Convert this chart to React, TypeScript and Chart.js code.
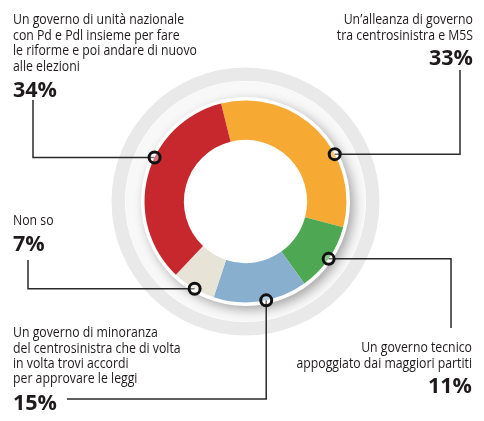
import React, { useEffect, useRef } from "react";
import { Chart, registerables } from "chart.js";

Chart.register(...registerables);

// ---- data ----
const categories = [
  "Un’alleanza di governo tra centrosinistra e M5S",
  "Un governo tecnico appoggiato dai maggiori partiti",
  "Un governo di minoranza del centrosinistra che di volta in volta trovi accordi per approvare le leggi",
  "Non so",
  "Un governo di unità nazionale con Pd e Pdl insieme per fare le riforme e poi andare di nuovo alle elezioni",
];
const values = [33, 11, 15, 7, 34];
const colors = ["#F6A933", "#4EA752", "#89AFCE", "#E7E3D6", "#C7282E"];
const labelLines = [
  ["Un’alleanza di governo", "tra centrosinistra e M5S"],
  ["Un governo tecnico", "appoggiato dai maggiori partiti"],
  ["Un governo di minoranza", "del centrosinistra che di volta", "in volta trovi accordi", "per approvare le leggi"],
  ["Non so"],
  ["Un governo di unità nazionale", "con Pd e Pdl insieme per fare", "le riforme e poi andare di nuovo", "alle elezioni"],
];

// ---- layout (positions only) ----
type Lay = {
  x: number; align: CanvasTextAlign; lineY: number[]; pctY: number;
  markerFrac: number; leader: { first: "h" | "v"; hx: number; vy: number };
};
const layout: Lay[] = [
  { x: 473, align: "right", lineY: [24, 39.5], pctY: 65, markerFrac: 0.64, leader: { first: "h", hx: 460, vy: 70 } },
  { x: 472, align: "right", lineY: [352, 367.5], pctY: 393, markerFrac: 0.5, leader: { first: "h", hx: 451, vy: 328 } },
  { x: 13, align: "left", lineY: [337, 352.5, 368, 383], pctY: 410, markerFrac: 0.44, leader: { first: "v", hx: 67, vy: 399 } },
  { x: 13, align: "left", lineY: [225], pctY: 251, markerFrac: 0.47, leader: { first: "h", hx: 28, vy: 260 } },
  { x: 13, align: "left", lineY: [24, 39.5, 55, 70.5], pctY: 97, markerFrac: 0.59, leader: { first: "h", hx: 33, vy: 100 } },
];

const TEXT = "#1f1b1c";

export default function App() {
  const ref = useRef<HTMLCanvasElement | null>(null);
  useEffect(() => {
    if (!ref.current) return;
    const bodyFont = `14px 'Open Sans', 'Noto Sans', sans-serif`;
    const pctFont = `bold 21.5px 'Open Sans', 'Liberation Sans', sans-serif`;

    const decor = {
      id: "decor",
      beforeDatasetsDraw(chart: any) {
        const meta = chart.getDatasetMeta(0);
        const arc = meta.data[0];
        if (!arc) return;
        const { x, y, outerRadius } = arc.getProps(["x", "y", "outerRadius"], true);
        const ctx = chart.ctx as CanvasRenderingContext2D;
        ctx.save();
        ctx.beginPath();
        ctx.arc(x, y, outerRadius + 19, 0, Math.PI * 2);
        ctx.fillStyle = "#f8f8f8";
        ctx.fill();
        ctx.beginPath();
        ctx.arc(x, y, outerRadius + 33, 0, Math.PI * 2);
        ctx.arc(x, y, outerRadius + 19.5, 0, Math.PI * 2, true);
        ctx.fillStyle = "#e9e9e9";
        ctx.fill();
        ctx.shadowColor = "rgba(0,0,0,0.32)";
        ctx.shadowBlur = 11;
        ctx.shadowOffsetX = 4;
        ctx.shadowOffsetY = 4;
        ctx.beginPath();
        ctx.arc(x, y, outerRadius + 3.5, 0, Math.PI * 2);
        ctx.fillStyle = "#ffffff";
        ctx.fill();
        ctx.restore();
      },
      afterDatasetsDraw(chart: any) {
        const meta = chart.getDatasetMeta(0);
        const ctx = chart.ctx as CanvasRenderingContext2D;
        ctx.font = bodyFont;
        const sx = 184 / ctx.measureText("le riforme e poi andare di nuovo").width;
        ctx.font = pctFont;
        const px = 44 / ctx.measureText("34%").width;
        meta.data.forEach((el: any, i: number) => {
          const p = el.getProps(["x", "y", "startAngle", "endAngle", "outerRadius"], true);
          const L = layout[i];
          const ang = p.startAngle + L.markerFrac * (p.endAngle - p.startAngle);
          const mx = p.x + Math.cos(ang) * p.outerRadius;
          const my = p.y + Math.sin(ang) * p.outerRadius;
          ctx.save();
          ctx.strokeStyle = "#2a2a2a";
          ctx.lineWidth = 1.5;
          ctx.beginPath();
          ctx.moveTo(mx, my);
          if (L.leader.first === "h") {
            ctx.lineTo(L.leader.hx, my);
            ctx.lineTo(L.leader.hx, L.leader.vy);
          } else {
            ctx.lineTo(mx, L.leader.vy);
            ctx.lineTo(L.leader.hx, L.leader.vy);
          }
          ctx.stroke();
          ctx.beginPath();
          ctx.arc(mx, my, 5.5, 0, Math.PI * 2);
          ctx.fillStyle = "rgba(255,255,255,0.35)";
          ctx.fill();
          ctx.lineWidth = 3;
          ctx.strokeStyle = "#111111";
          ctx.stroke();
          ctx.restore();

          ctx.save();
          ctx.fillStyle = TEXT;
          ctx.textBaseline = "alphabetic";
          ctx.textAlign = L.align;
          ctx.font = bodyFont;
          labelLines[i].forEach((line, k) => {
            ctx.save();
            ctx.translate(L.x, L.lineY[k]);
            ctx.scale(sx, 1);
            ctx.fillText(line, 0, 0);
            ctx.restore();
          });
          ctx.font = pctFont;
          ctx.translate(L.x, L.pctY);
          ctx.scale(px, 1);
          ctx.fillText(`${values[i]}%`, 0, 0);
          ctx.restore();
        });
      },
    };

    const chart = new Chart(ref.current, {
      type: "doughnut",
      data: {
        labels: categories,
        datasets: [
          {
            data: values,
            backgroundColor: colors,
            borderWidth: 0,
            hoverOffset: 0,
          },
        ],
      },
      options: {
        animation: false,
        responsive: true,
        maintainAspectRatio: false,
        rotation: -14,
        cutout: "61%",
        layout: { padding: { left: 144.5, right: 137.5, top: 100.5, bottom: 118.5 } },
        plugins: { legend: { display: false }, tooltip: { enabled: false } },
        events: [],
      },
      plugins: [decor],
    });
    return () => chart.destroy();
  }, []);

  return (
    <div style={{ position: "absolute", left: 0, top: 0, width: 484, height: 421, background: "#ffffff" }}>
      <canvas ref={ref} />
    </div>
  );
}
